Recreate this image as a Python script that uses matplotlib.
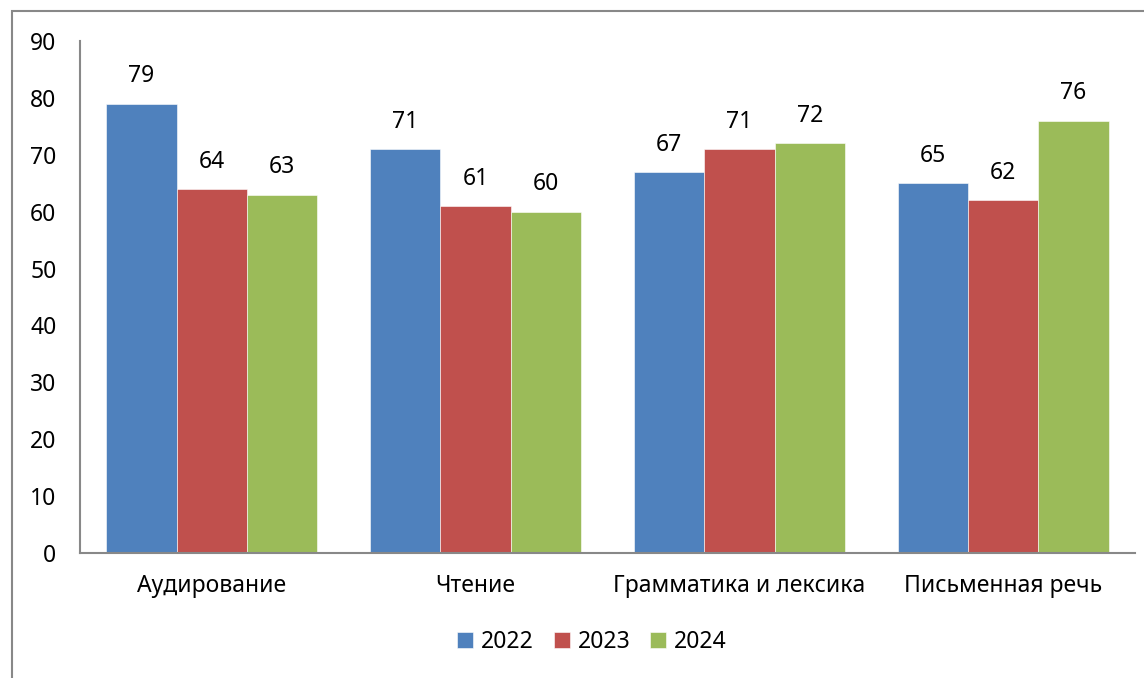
import numpy as np
import matplotlib
matplotlib.use('Agg')
import matplotlib.pyplot as plt
from matplotlib.patches import Rectangle

categories = ['Аудирование', 'Чтение', 'Грамматика и лексика', 'Письменная речь']
years = ['2022', '2023', '2024']
v2022 = [79, 71, 67, 65]
v2023 = [64, 61, 71, 62]
v2024 = [63, 60, 72, 76]
colors = ['#4F81BD', '#C0504D', '#9BBB59']

plt.rcParams['font.family'] = ['Noto Sans', 'DejaVu Sans']
fs = 16.5

fig = plt.figure(figsize=(11.44, 6.78), dpi=100)
ax = fig.add_axes([80/1144, 1-553/678, 1055/1144, 512/678])

# frame around the chart, cut off at right and bottom like the source
fig.patches.append(Rectangle((12/1144, -0.05), 1.05, 1.05 - 11/678,
                             transform=fig.transFigure, fill=False,
                             edgecolor='#888888', lw=1.5))

x = np.arange(len(categories))
w = 1/3.75
series = [v2022, v2023, v2024]
for i, vals in enumerate(series):
    bars = ax.bar(x + (i-1)*w, vals, w, color=colors[i], label=years[i],
                  edgecolor='white', linewidth=0.4)
    for b, v in zip(bars, vals):
        ax.annotate(str(v), (b.get_x() + b.get_width()/2, v), xytext=(0, 11),
                    textcoords='offset points', ha='center', va='bottom',
                    fontsize=fs)

ax.set_xlim(-0.5, 3.5)
ax.set_ylim(0, 90)
ax.set_yticks(range(0, 91, 10))
ax.set_xticks(x)
ax.set_xticklabels(categories)
ax.tick_params(axis='both', length=0, labelsize=fs)
ax.tick_params(axis='y', pad=17)
ax.tick_params(axis='x', pad=15)
for s in ['top', 'right']:
    ax.spines[s].set_visible(False)
for s in ['left', 'bottom']:
    ax.spines[s].set_color('#888888')
    ax.spines[s].set_linewidth(1.5)

ax.legend(loc='center', bbox_to_anchor=(592/1144, 1-642/678),
          bbox_transform=fig.transFigure, ncol=3, frameon=False,
          handlelength=0.7, handleheight=0.7, columnspacing=0.85,
          handletextpad=0.35, fontsize=fs)

fig.savefig('out.png', dpi=100)
